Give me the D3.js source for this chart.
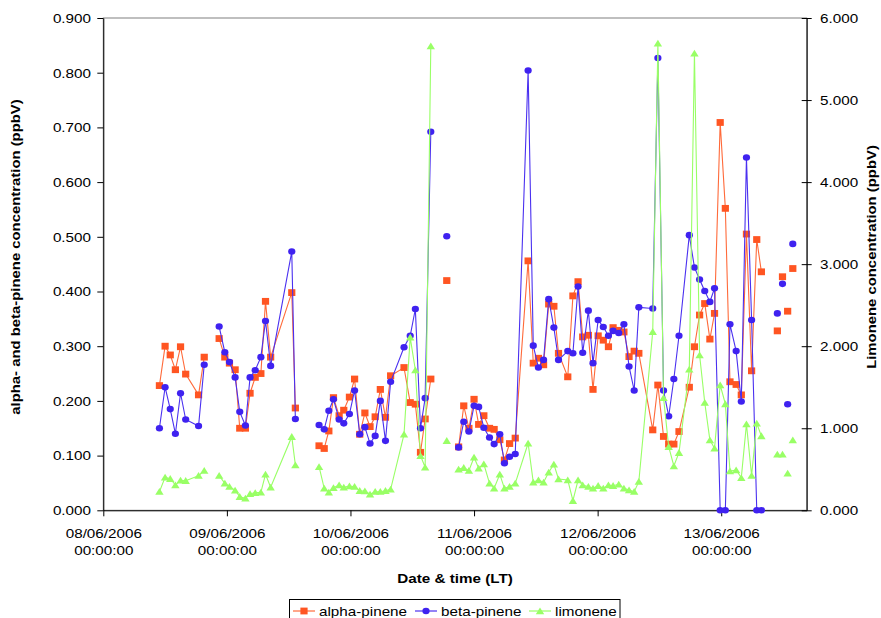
<!DOCTYPE html>
<html>
<head>
<meta charset="utf-8">
<script src="https://cdn.jsdelivr.net/npm/d3@7"></script>
<style>
  body { margin: 0; background: #fff; }
  text { font-family: "Liberation Sans", Arial, sans-serif; fill: #000; }
</style>
</head>
<body>
<script>
// hours after 08/06/2006 00:00 (null = break in the series)
var hours = [10.9,12.0,13.0,14.0,15.0,16.0,18.5,19.6,null,
  22.5,23.6,24.5,25.6,26.5,27.6,28.5,29.5,30.6,31.5,32.5,36.6,37.3,null,
  41.9,42.9,43.8,44.7,45.8,46.7,47.8,48.8,49.8,50.8,51.8,52.8,53.8,54.8,55.8,58.4,59.6,60.6,61.6,62.5,63.6,null,
  66.7,null,
  69.0,70.0,71.0,72.0,72.9,73.9,75.0,75.9,77.0,77.9,78.9,80.0,82.5,83.5,84.5,85.5,86.5,87.5,88.4,90.2,
  91.2,92.2,93.1,94.2,95.1,96.1,97.1,98.1,99.0,100.1,101.1,102.1,103.1,104.0,106.7,107.7,108.8,109.8,110.8,111.8,
  113.8,114.8,115.8,116.8,117.8,118.7,119.8,120.8,121.7,122.9,123.9,124.9,125.9,126.9,127.8,null,
  130.9,null,131.9,null,132.9,null,133.9];

var alphaPinene = [.228,.300,.284,.257,.299,.249,.211,.280,null,
  .314,.280,.269,.257,.150,.150,.214,.243,.250,.382,.280,.398,.187,null,
  .118,.113,.145,.206,.173,.183,.207,.240,.139,.178,.153,.171,.221,.170,.246,.261,.197,.194,.106,.167,.240,null,
  .420,null,
  .116,.191,.150,.203,.157,.173,.150,.148,.129,.092,.122,.132,.456,.269,.278,.266,.377,.373,.287,.244,
  .392,.418,.317,.320,.221,.319,.311,.299,.334,.329,.326,.281,.291,.287,.147,.229,.135,.121,.121,.144,
  .225,.299,.357,.378,.313,.360,.709,.552,.235,.230,.211,.505,.255,.495,.436,null,
  .328,null,.427,null,.364,null,.442];

var betaPinene = [.150,.225,.185,.140,.214,.166,.154,.266,null,
  .336,.289,.271,.243,.180,.155,.243,.256,.280,.346,.264,.473,.167,null,
  .156,.148,.182,.203,.166,.159,.176,.219,.139,.152,.122,.136,.200,.127,.235,.298,.319,.368,.150,.205,.692,null,
  .501,null,
  .115,.162,.144,.191,.189,.151,.133,.121,.139,.086,.098,.103,.804,.301,.261,.275,.386,.334,.275,.291,
  .287,.409,.288,.365,.269,.348,.335,.319,.328,.324,.340,.263,.219,.371,.369,.827,.219,.172,.240,.319,
  .503,.444,.422,.401,.381,.406,0,0,.340,.291,.199,.645,.348,0,0,null,
  .360,null,.414,null,.194,null,.487];

var limonene = [.227,.402,.385,.308,.366,.361,.422,.483,null,
  .422,.329,.288,.244,.166,.146,.202,.214,.219,.439,.280,.897,.552,null,
  .531,.268,.219,.275,.308,.280,.296,.288,.239,.235,.195,.227,.227,.239,.256,.926,2.108,1.710,.665,.524,5.659,null,
  .848,null,
  .500,.519,.483,.646,.512,.564,.329,.268,.439,.268,.288,.329,.817,.341,.369,.341,.463,.561,.381,.369,
  .117,.369,.308,.288,.268,.300,.268,.308,.300,.317,.268,.247,.227,.349,2.177,5.692,1.372,.775,.540,.702,
  1.718,5.570,1.893,1.314,.857,.756,1.527,1.296,.479,.491,.397,1.052,.422,1.060,.906,null,
  .683,null,.683,null,.451,null,.857];

var leftTicks = [0,.1,.2,.3,.4,.5,.6,.7,.8,.9];
var rightTicks = [0,1,2,3,4,5,6];
var seriesNames = ["alpha-pinene", "beta-pinene", "limonene"];

var W = 881, H = 618;
var pL = 103.3, pR = 806.7, pT = 18, pB = 510.3;
var SX = 1.27; // text is drawn a bit wide in the original

var t0 = Date.UTC(2006, 5, 8);
function toDate(h) { return new Date(t0 + h * 3600e3); }

var rows = hours.map(function(h, i) {
  return { h: h, a: alphaPinene[i], b: betaPinene[i], l: limonene[i] };
});

var x = d3.scaleUtc().domain([toDate(0), toDate(136.6)]).range([pL, pR]);
var yL = d3.scaleLinear().domain([0, 0.9]).range([pB, pT]);
var yR = d3.scaleLinear().domain([0, 6]).range([pB, pT]);

var svg = d3.select("body").append("svg")
  .attr("width", W).attr("height", H);

// plot area border
svg.append("rect")
  .attr("x", pL).attr("y", pT)
  .attr("width", pR - pL).attr("height", pB - pT)
  .attr("fill", "none").attr("stroke", "#808080").attr("stroke-width", 1);

// axes
var fmt = d3.format(".3f");
var gL = svg.append("g").attr("transform", "translate(" + pL + ",0)")
  .call(d3.axisLeft(yL).tickValues(leftTicks).tickFormat(fmt).tickSizeInner(6).tickSizeOuter(0).tickPadding(0));
var gR = svg.append("g").attr("transform", "translate(" + pR + ",0)")
  .call(d3.axisRight(yR).tickValues(rightTicks).tickFormat(fmt).tickSizeInner(5).tickSizeOuter(0).tickPadding(0));
var gX = svg.append("g").attr("transform", "translate(0," + pB + ")")
  .call(d3.axisBottom(x).ticks(d3.utcDay.every(1)).tickFormat("").tickSizeInner(6).tickSizeOuter(0));

[gL, gR, gX].forEach(function(g) {
  g.select(".domain").attr("stroke", "#000");
  g.selectAll(".tick line").attr("stroke", "#000");
});
gR.selectAll(".tick line").attr("x1", -5);

gL.selectAll(".tick text")
  .attr("font-size", 12).attr("font-family", null)
  .attr("x", -12.3 / SX).attr("dy", "0.36em")
  .attr("transform", "scale(" + SX + ",1)");
gR.selectAll(".tick text")
  .attr("font-size", 12).attr("font-family", null)
  .attr("x", 13.3 / SX).attr("dy", "0.36em")
  .attr("transform", "scale(" + SX + ",1)");

var dayFmt = d3.utcFormat("%d/%m/%Y"), timeFmt = d3.utcFormat("%H:%M:%S");
gX.selectAll(".tick").each(function(d) {
  var g = d3.select(this);
  g.select("text").remove();
  var t = g.append("text").attr("text-anchor", "middle").attr("font-size", 12)
    .attr("transform", "scale(" + SX + ",1)");
  t.append("tspan").attr("x", 0).attr("y", 28).text(dayFmt(d));
  t.append("tspan").attr("x", 0).attr("y", 45).text(timeFmt(d));
});

// axis titles
svg.append("text")
  .attr("transform", "translate(455,583) scale(" + SX + ",1)")
  .attr("text-anchor", "middle").attr("font-size", 12).attr("font-weight", "bold")
  .text("Date & time (LT)");
svg.append("text")
  .attr("transform", "translate(19.5,257) rotate(-90) scale(1.24,1)")
  .attr("text-anchor", "middle").attr("font-size", 12).attr("font-weight", "bold")
  .text("alpha- and beta-pinene concentration (ppbV)");
svg.append("text")
  .attr("transform", "translate(875.5,257) rotate(-90) scale(1.24,1)")
  .attr("text-anchor", "middle").attr("font-size", 12).attr("font-weight", "bold")
  .text("Limonene concentration (ppbV)");

// series
var colors = { a: "#FF5522", b: "#3F22F0", l: "#99FF66" };
var lineColors = { a: "#FF6A3A", b: "#4A30F0", l: "#99FF66" };

function drawLine(key, y) {
  var line = d3.line()
    .defined(function(d) { return d.h != null && d[key] != null; })
    .x(function(d) { return x(toDate(d.h)); })
    .y(function(d) { return y(d[key]); });
  svg.append("path").datum(rows)
    .attr("d", line)
    .attr("fill", "none").attr("stroke", lineColors[key]).attr("stroke-width", 1.1);
}

function pts(key) {
  return rows.filter(function(d) { return d.h != null && d[key] != null; });
}

function square(sel, cx, cy) {
  sel.append("rect").attr("x", cx - 3.6).attr("y", cy - 3.4)
    .attr("width", 7.2).attr("height", 6.8).attr("fill", colors.a);
}
function circle(sel, cx, cy) {
  sel.append("ellipse").attr("cx", cx).attr("cy", cy)
    .attr("rx", 3.6).attr("ry", 3.3).attr("fill", colors.b);
}
function triangle(sel, cx, cy) {
  sel.append("path")
    .attr("d", "M" + (cx - 4.2) + "," + (cy + 3.2) + "L" + (cx + 4.2) + "," + (cy + 3.2) + "L" + cx + "," + (cy - 3.6) + "Z")
    .attr("fill", colors.l);
}

drawLine("a", yL);
var gA = svg.append("g");
pts("a").forEach(function(d) { square(gA, x(toDate(d.h)), yL(d.a)); });

drawLine("b", yL);
var gB = svg.append("g");
pts("b").forEach(function(d) { circle(gB, x(toDate(d.h)), yL(d.b)); });

drawLine("l", yR);
var gG = svg.append("g");
pts("l").forEach(function(d) { triangle(gG, x(toDate(d.h)), yR(d.l)); });

// legend
var lg = svg.append("g");
lg.append("rect").attr("x", 289.5).attr("y", 599.5).attr("width", 330.5).attr("height", 26)
  .attr("fill", "#fff").attr("stroke", "#000").attr("stroke-width", 1);
var legendItems = [
  { x0: 293, x1: 315, tx: 319, key: "a", draw: square },
  { x0: 415, x1: 437, tx: 441, key: "b", draw: circle },
  { x0: 529, x1: 551, tx: 555, key: "l", draw: triangle }
];
legendItems.forEach(function(it, i) {
  var ly = 611;
  lg.append("line").attr("x1", it.x0).attr("x2", it.x1).attr("y1", ly).attr("y2", ly)
    .attr("stroke", lineColors[it.key]).attr("stroke-width", 1.2);
  it.draw(lg, (it.x0 + it.x1) / 2, ly);
  lg.append("text")
    .attr("transform", "translate(" + it.tx + ",615.5) scale(" + SX + ",1)")
    .attr("font-size", 12).text(seriesNames[i]);
});
</script>
</body>
</html>
